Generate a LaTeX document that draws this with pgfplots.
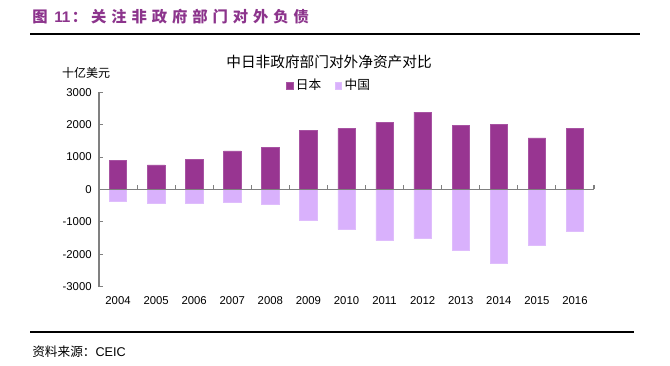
\documentclass[border=0pt]{standalone}
\usepackage{fontspec}
\setmainfont{Liberation Sans}
\newfontfamily\cjk{Noto Sans CJK SC}
\newfontfamily\cjkhead[LetterSpace=32]{Noto Sans CJK SC}
\usepackage{pgfplots}
\pgfplotsset{compat=1.18}
\definecolor{jp}{RGB}{152,53,145}
\definecolor{cn}{RGB}{217,177,252}
\definecolor{head}{RGB}{140,52,140}
\definecolor{axgray}{RGB}{128,128,128}
\begin{document}
\begin{tikzpicture}
\useasboundingbox (0,0) rectangle (502.5pt,273.75pt);
% header
\node[anchor=west,inner sep=0pt,text=head,font=\fontsize{11.5}{12}\selectfont\bfseries] at (24pt,261pt) {{\cjkhead 图}\hspace{5pt}11\hspace{1pt}{\cjkhead ：}\hspace{3pt}{\cjkhead 关注非政府部门对外负债}};
\draw[line width=0.8pt] (22.5pt,248.25pt) -- (480pt,248.25pt);
% chart title
\node[font=\cjk\fontsize{11}{12}\selectfont,inner sep=0pt] at (246.75pt,227.25pt) {中日非政府部门对外净资产对比};
\node[font=\cjk\fontsize{9}{10}\selectfont,inner sep=0pt] at (64.5pt,219pt) {十亿美元};
\begin{axis}[
  at={(74.25pt,58.73pt)}, anchor=south west,
  scale only axis, width=371.25pt, height=145.8pt,
  xmin=-0.5, xmax=12.5, ymin=-3000, ymax=3000,
  axis y line=left, axis x line*=bottom,
  axis line style={-, axgray, line width=0.8pt},
  x axis line style={draw=none},
  xtick={0,...,12},
  xticklabels={2004,2005,2006,2007,2008,2009,2010,2011,2012,2013,2014,2015,2016},
  xtick style={draw=none},
  ytick={-3000,-2000,...,3000},
  ytick style={axgray, line width=0.8pt},
  tick align=inside, major tick length=3pt,
  scaled y ticks=false,
  /pgf/number format/assume math mode=true,
  /pgf/number format/1000 sep={},
  tick label style={font=\fontsize{8.5}{10}\selectfont},
  yticklabel style={xshift=-2pt},
  xticklabel style={yshift=-1pt},
  ybar, bar width=13pt, bar shift=0pt,
  legend columns=2,
  legend style={at={(0.465,1.035)}, anchor=center, draw=none, fill=none,
    font=\cjk\fontsize{9.5}{10}\selectfont, inner sep=0pt,
    /tikz/every even column/.append style={column sep=8pt}},
  legend image code/.code={\fill[#1] (0pt,-2.6pt) rectangle (5.2pt,2.6pt);},
  clip=false,
]
\addplot[fill=jp, draw=jp!85!white] coordinates {(0,900) (1,760) (2,940) (3,1190) (4,1310) (5,1830) (6,1890) (7,2080) (8,2390) (9,1990) (10,2020) (11,1590) (12,1890)};
\addlegendentry{日本}
\addplot[fill=cn, draw=cn!85!white] coordinates {(0,-350) (1,-410) (2,-440) (3,-380) (4,-470) (5,-960) (6,-1240) (7,-1580) (8,-1520) (9,-1880) (10,-2280) (11,-1730) (12,-1290)};
\addlegendentry{中国}
\draw[axgray, line width=0.8pt] (axis cs:-0.5,0) -- (axis cs:12.5,0);
\pgfplotsinvokeforeach{0.5,1.5,2.5,3.5,4.5,5.5,6.5,7.5,8.5,9.5,10.5,11.5,12.5}{
  \draw[axgray, line width=0.8pt] (axis cs:#1,0) -- ++(0pt,3pt);
}
\end{axis}
% footer
\draw[line width=0.8pt] (22.5pt,24.75pt) -- (475.5pt,24.75pt);
\node[anchor=west,inner sep=0pt,font=\fontsize{9.5}{11}\selectfont] at (24pt,9.75pt) {{\cjk 资料来源：}CEIC};
\end{tikzpicture}
\end{document}
